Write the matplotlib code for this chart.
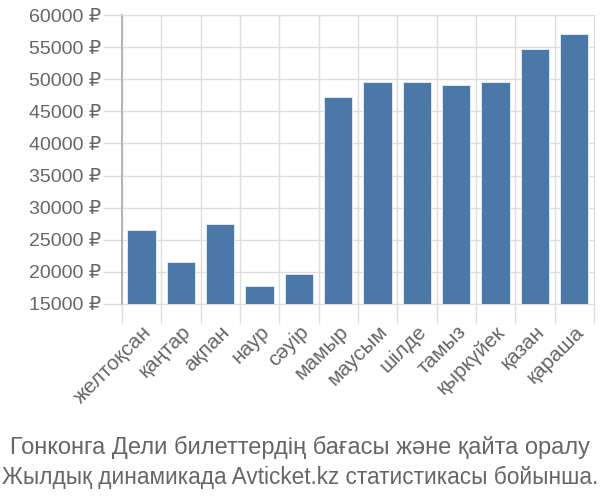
import numpy as np
import matplotlib
matplotlib.use('Agg')
import matplotlib.pyplot as plt

plt.rcParams['font.family'] = ['Liberation Sans', 'DejaVu Sans']

months = ['желтоқсан', 'қаңтар', 'ақпан', 'наур', 'сәуір', 'мамыр',
          'маусым', 'шілде', 'тамыз', 'қыркүйек', 'қазан', 'қараша']
prices = [26500, 21500, 27400, 17800, 19600, 47300,
          49600, 49600, 49100, 49600, 54700, 57100]
yticks = [15000, 20000, 25000, 30000, 35000, 40000, 45000, 50000, 55000, 60000]
title_lines = ['Гонконга Дели билеттердің бағасы және қайта оралу',
               'Жылдық динамикада Avticket.kz статистикасы бойынша.']

text_col = '#666666'
grid_col = '#dddddd'
bar_col = '#4c78a8'

fig = plt.figure(figsize=(6, 5), dpi=100)
ax = fig.add_axes([0.203, 0.392, 0.787, 0.578])

x = np.arange(len(months))
ax.bar(x, prices, width=0.72, color=bar_col, edgecolor='#e8eef5', linewidth=0.6, zorder=3)

ax.set_xlim(-0.5, len(months) - 0.5)
ax.set_ylim(15000, 60000)

ax.set_yticks(yticks)
ax.set_yticklabels([f'{v} ₽' for v in yticks], fontsize=14, color=text_col)
ax.tick_params(axis='y', length=14, width=1, color=grid_col, pad=1)

ax.set_xticks(x)
ax.set_xticklabels(months, rotation=45, ha='right', rotation_mode='anchor',
                   fontsize=15, color=text_col)
ax.tick_params(axis='x', which='major', length=0, pad=13)
ax.set_xticks(np.arange(len(months) + 1) - 0.5, minor=True)
ax.tick_params(axis='x', which='minor', length=14, width=1, color=grid_col)

ax.grid(True, axis='y', color=grid_col, linewidth=1, zorder=0)
ax.grid(True, axis='x', which='minor', color=grid_col, linewidth=1, zorder=0)
ax.grid(False, axis='x', which='major')

for s in ['top', 'right', 'bottom']:
    ax.spines[s].set_color(grid_col)
ax.spines['left'].set_color('#aaaaaa')
ax.spines['left'].set_linewidth(1.2)

fig.text(0.5, 0.106, title_lines[0], ha='center', va='center', fontsize=17,
         color=text_col)
fig.text(0.5, 0.046, title_lines[1], ha='center', va='center', fontsize=16.3,
         color=text_col)

fig.savefig('out.png', dpi=100)
